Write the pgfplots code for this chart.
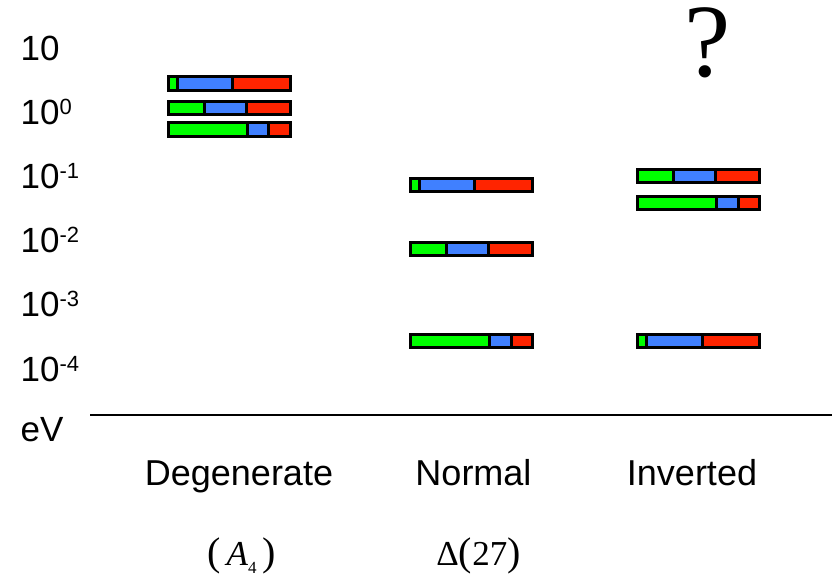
\documentclass[border=0pt]{standalone}
\usepackage{pgfplots}
\usepackage{pgfplotstable}
\pgfplotsset{compat=1.18}
\usepackage{fontspec}
\setmainfont{Liberation Sans}
\newfontfamily\timesf{Liberation Serif}
\definecolor{nugreen}{HTML}{00FF00}
\definecolor{nublue}{HTML}{4080FF}
\definecolor{nured}{HTML}{FF2400}
\newcommand{\sx}[1]{\raisebox{10pt}{\fontsize{22}{22}\selectfont #1}}
\newcommand{\bigp}[1]{{\fontsize{40}{40}\selectfont #1}}

% y = log10(m/eV); off = invisible start, then green / blue / red lengths
\pgfplotstableread{
y      off   g    b   r
0.439  168.5 8.5  55  58.5
0.058  168.5 35.5 42  44.5
-0.277 168.5 78.5 21  22.5
-1.142 410.5 8.5  55  58.5
-2.139 410.5 35.5 42  44.5
-3.572 410.5 78.5 22  21.5
-1.002 637.5 35.5 42  44.5
-1.422 637.5 78.5 22  21.5
-3.572 637.5 8.5  56  57.5
}\levels

\begin{document}
\begin{tikzpicture}
\begin{axis}[
  scale only axis,
  width=836pt, height=576pt,
  xmin=0, xmax=836, ymin=-7.232, ymax=1.740,
  xbar stacked, bar width=13.5pt,
  axis line style={draw=none},
  tick style={draw=none},
  xtick={239,473.5,692},
  xticklabels={Degenerate,Normal,Inverted},
  xticklabel style={anchor=base, yshift=91pt, font=\fontsize{36}{36}\selectfont},
  ytick={-4.942,-4,-3,-2,-1,0,1},
  yticklabels={eV,10\sx{-4},10\sx{-3},10\sx{-2},10\sx{-1},10\sx{0},10},
  yticklabel style={anchor=base west, inner sep=0pt, xshift=20.5pt, yshift=-12.5pt,
    font=\fontsize{35}{35}\selectfont},
  clip=false,
]
\addplot[draw=none, fill=none] table[x=off, y=y] {\levels};
\addplot[fill=nugreen, draw=black, line width=3pt] table[x=g, y=y] {\levels};
\addplot[fill=nublue, draw=black, line width=3pt] table[x=b, y=y] {\levels};
\addplot[fill=nured, draw=black, line width=3pt] table[x=r, y=y] {\levels};

\addplot[black, line width=2.5pt, sharp plot, stack plots=false] coordinates {(90,-4.724) (832,-4.724)};

\node[anchor=base, font=\timesf\fontsize{35}{35}\selectfont] at (axis cs:241.5,-7.061)
  {\bigp{(}\,\textit{A}\raisebox{-8pt}{\fontsize{17}{17}\selectfont 4}\,\bigp{)}};
\node[anchor=base, font=\timesf\fontsize{35}{35}\selectfont] at (axis cs:478.5,-7.061)
  {Δ\bigp{(}27\bigp{)}};
\node[anchor=base, inner sep=0pt, font=\timesf\fontsize{104}{104}\selectfont] at (axis cs:708,0.556) {?};
\end{axis}
\end{tikzpicture}
\end{document}
